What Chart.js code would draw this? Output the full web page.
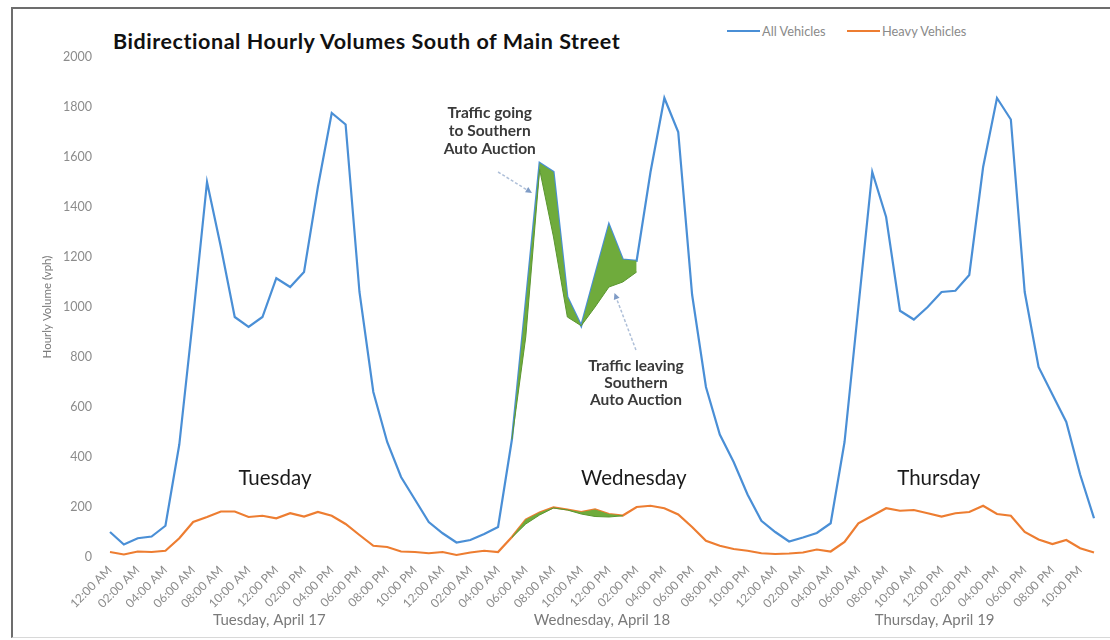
<!DOCTYPE html>
<html>
<head>
<meta charset="utf-8">
<script src="https://cdn.jsdelivr.net/npm/chart.js@4.4.1/dist/chart.umd.min.js"></script>
<style>
  body { margin: 0; width: 1110px; height: 640px; position: relative; background: #fff; overflow: hidden; font-family: Lato, "Open Sans", sans-serif; }
  .frame { position: absolute; left: 11px; top: 7px; width: 1110px; height: 628px; border-top: 2px solid #6d6d6d; border-left: 2px solid #6d6d6d; border-bottom: 1px solid #d8d8d8; }
  #title { position: absolute; left: 113px; top: 28px; font-size: 21.5px; letter-spacing: 0.55px; font-weight: 700; color: #111; white-space: nowrap; }
  .legend-item { position: absolute; top: 23px; font-size: 12.8px; color: #8a8a8a; white-space: nowrap; display: flex; align-items: center; }
  .legend-item span.swatch { display: inline-block; width: 33px; height: 2px; margin-right: 2px; }
  #chart { position: absolute; left: 0; top: 0; }
</style>
</head>
<body>
<div class="frame"></div>
<div id="title">Bidirectional Hourly Volumes South of Main Street</div>
<div class="legend-item" style="left:727px;"><span class="swatch" style="background:#4a8fd6;"></span>All Vehicles</div>
<div class="legend-item" style="left:847px;"><span class="swatch" style="background:#ed7d31;"></span>Heavy Vehicles</div>
<canvas id="chart" width="1110" height="640"></canvas>

<script>
// ─── Data ───────────────────────────────────────────────────────
const hourLabels = ['12:00 AM', '01:00 AM', '02:00 AM', '03:00 AM', '04:00 AM', '05:00 AM',
  '06:00 AM', '07:00 AM', '08:00 AM', '09:00 AM', '10:00 AM', '11:00 AM',
  '12:00 PM', '01:00 PM', '02:00 PM', '03:00 PM', '04:00 PM', '05:00 PM',
  '06:00 PM', '07:00 PM', '08:00 PM', '09:00 PM', '10:00 PM', '11:00 PM'];
const dayLabels = ['Tuesday, April 17', 'Wednesday, April 18', 'Thursday, April 19'];
const dayNames = ['Tuesday', 'Wednesday', 'Thursday'];

const allVehicles = [
  100, 50, 75, 82, 125, 450, 960, 1500, 1240, 960, 920, 960, 1115, 1080, 1140, 1480, 1776, 1730, 1060, 660, 460, 320, 230, 140,
  95, 58, 68, 92, 120, 470, 1020, 1576, 1540, 1040, 925, 1128, 1330, 1190, 1185, 1540, 1836, 1700, 1050, 680, 490, 380, 250, 145,
  100, 62, 78, 96, 135, 460, 1000, 1540, 1360, 985, 950, 1000, 1060, 1065, 1128, 1560, 1836, 1750, 1060, 760, 650, 540, 330, 155
];
const heavyVehicles = [
  20, 10, 22, 20, 25, 75, 140, 160, 182, 182, 160, 165, 155, 175, 162, 180, 165, 132, 88, 45, 40, 22, 20, 15,
  20, 8, 18, 25, 20, 80, 150, 178, 198, 190, 180, 190, 172, 166, 200, 205, 195, 170, 120, 65, 45, 32, 25, 15,
  12, 14, 18, 30, 22, 60, 135, 165, 195, 185, 188, 175, 162, 175, 180, 205, 172, 165, 100, 70, 52, 68, 35, 18
];
// volumes without the auction traffic (Wednesday 5 AM - 2 PM), shaded green up to the totals
const allWithoutAuction = [
  null, null, null, null, null, null, null, null, null, null, null, null, null, null, null, null, null, null, null, null, null, null, null, null,
  null, null, null, null, null, 470, 880, 1550, 1280, 960, 925, 1000, 1080, 1100, 1140, null, null, null, null, null, null, null, null, null,
  null, null, null, null, null, null, null, null, null, null, null, null, null, null, null, null, null, null, null, null, null, null, null, null
];
const heavyWithoutAuction = [
  null, null, null, null, null, null, null, null, null, null, null, null, null, null, null, null, null, null, null, null, null, null, null, null,
  null, null, null, null, null, 78, 132, 168, 196, 188, 172, 162, 160, 165, null, null, null, null, null, null, null, null, null, null,
  null, null, null, null, null, null, null, null, null, null, null, null, null, null, null, null, null, null, null, null, null, null, null, null
];
const yMin = 0, yMax = 2000, yStep = 200;

const categories = dayLabels.flatMap(() => hourLabels);

const BLUE = '#4a8fd6';
const ORANGE = '#ed7d31';
const GREEN = '#6fab3c';
const GREEN_EDGE = '#5a9630';
const TICK_GRAY = '#8c8c8c';

// ─── Annotations (text + arrows), placed in data units ─────────
const notes = [
  { lines: ['Traffic going', 'to Southern', 'Auto Auction'], at: [27.4, 1776], step: -72 },
  { lines: ['Traffic leaving', 'Southern', 'Auto Auction'], at: [37.95, 764], step: -68 }
];
const arrows = [
  { from: [28.0, 1540], to: [30.45, 1456] },
  { from: [37.95, 828], to: [36.4, 1056] }
];
const dayNotes = [[11.9, 316], [37.8, 316], [59.8, 316]];

const annotationPlugin = {
  id: 'notes',
  afterDatasetsDraw(chart) {
    const { ctx, scales: { x, y } } = chart;
    ctx.save();

    // big day names
    ctx.font = '20.5px Lato, sans-serif';
    ctx.fillStyle = '#1a1a1a';
    ctx.textAlign = 'center';
    ctx.textBaseline = 'middle';
    dayNotes.forEach((p, i) => {
      ctx.fillText(dayNames[i], x.getPixelForValue(p[0]), y.getPixelForValue(p[1]));
    });

    // callouts
    ctx.font = 'bold 15.5px Lato, sans-serif';
    ctx.fillStyle = '#3a3a3a';
    notes.forEach(n => {
      n.lines.forEach((line, k) => {
        ctx.fillText(line, x.getPixelForValue(n.at[0]), y.getPixelForValue(n.at[1] + k * n.step));
      });
    });

    // arrows
    arrows.forEach(a => {
      const x1 = x.getPixelForValue(a.from[0]), y1 = y.getPixelForValue(a.from[1]);
      const x2 = x.getPixelForValue(a.to[0]), y2 = y.getPixelForValue(a.to[1]);
      const ang = Math.atan2(y2 - y1, x2 - x1);
      ctx.strokeStyle = '#aebfd8';
      ctx.lineWidth = 1.5;
      ctx.setLineDash([3, 2]);
      ctx.beginPath();
      ctx.moveTo(x1, y1);
      ctx.lineTo(x2 - 5 * Math.cos(ang), y2 - 5 * Math.sin(ang));
      ctx.stroke();
      ctx.setLineDash([]);
      ctx.fillStyle = '#7f9cc6';
      ctx.beginPath();
      ctx.moveTo(x2, y2);
      ctx.lineTo(x2 - 7 * Math.cos(ang - 0.45), y2 - 7 * Math.sin(ang - 0.45));
      ctx.lineTo(x2 - 7 * Math.cos(ang + 0.45), y2 - 7 * Math.sin(ang + 0.45));
      ctx.closePath();
      ctx.fill();
    });

    // day captions under the hour ticks
    ctx.font = '15px Lato, sans-serif';
    ctx.fillStyle = '#7a7a7a';
    dayLabels.forEach((d, i) => {
      const cx = (x.getPixelForValue(i * 24) + x.getPixelForValue(i * 24 + 23)) / 2;
      ctx.fillText(d, cx, 620);
    });

    ctx.restore();
  }
};

new Chart(document.getElementById('chart'), {
  type: 'line',
  data: {
    labels: categories,
    datasets: [
      {
        label: 'All Vehicles',
        data: allVehicles,
        borderColor: BLUE,
        borderWidth: 2.2,
        pointRadius: 0,
        tension: 0,
        fill: false,
        order: 3
      },
      {
        label: 'Heavy Vehicles',
        data: heavyVehicles,
        borderColor: ORANGE,
        borderWidth: 2.2,
        pointRadius: 0,
        tension: 0,
        fill: false,
        order: 3
      },
      {
        label: 'All Vehicles without auction',
        data: allWithoutAuction,
        borderColor: GREEN_EDGE,
        borderWidth: 1,
        backgroundColor: GREEN,
        pointRadius: 0,
        tension: 0,
        fill: 0,
        order: 1
      },
      {
        label: 'Heavy Vehicles without auction',
        data: heavyWithoutAuction,
        borderColor: GREEN_EDGE,
        borderWidth: 1,
        backgroundColor: GREEN,
        pointRadius: 0,
        tension: 0,
        fill: 1,
        order: 1
      }
    ]
  },
  options: {
    responsive: false,
    animation: false,
    devicePixelRatio: 1,
    layout: { padding: { left: 36, right: 16, top: 57, bottom: 0 } },
    plugins: {
      legend: { display: false },
      tooltip: { enabled: false },
      filler: { drawTime: 'beforeDatasetDraw', propagate: false }
    },
    scales: {
      x: {
        grid: { display: false, drawTicks: false },
        border: { display: false },
        ticks: {
          autoSkip: false,
          minRotation: 45,
          maxRotation: 45,
          padding: 6,
          color: TICK_GRAY,
          font: { family: 'Lato', size: 12 },
          callback: function(val, idx) {
            return idx % 2 === 0 ? this.getLabelForValue(val) : null;
          }
        },
        afterFit: (s) => { s.height = 83; }
      },
      y: {
        min: yMin,
        max: yMax,
        grid: { display: false, drawTicks: false },
        border: { display: false },
        ticks: {
          stepSize: yStep,
          padding: 18,
          color: TICK_GRAY,
          font: { family: 'Lato', size: 12.5 },
          callback: (v) => String(v)
        },
        title: {
          display: true,
          text: 'Hourly Volume (vph)',
          color: '#7a7a7a',
          font: { family: 'Lato', size: 11.5 }
        },
        afterFit: (s) => { s.width = 74; }
      }
    }
  },
  plugins: [annotationPlugin]
});
</script>
</body>
</html>
